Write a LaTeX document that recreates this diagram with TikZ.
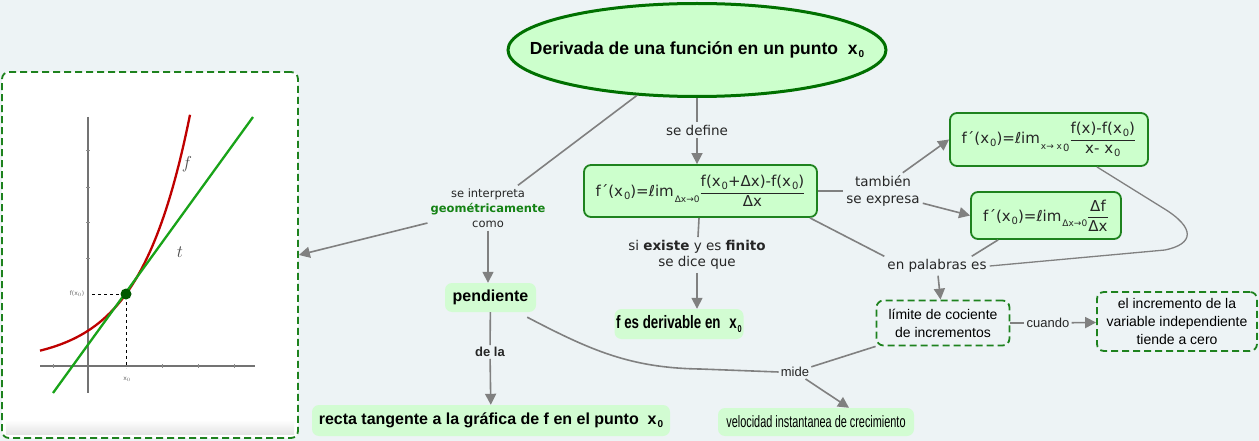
\documentclass[tikz,border=0pt]{standalone}
\usepackage{fontspec}
\usepackage{amsmath}
\setmainfont{DejaVu Sans}
\newfontfamily\arial{Liberation Sans}
\newfontfamily\narrow[FakeStretch=0.74]{Liberation Sans}
\newfontfamily\narrowB[FakeStretch=0.66]{Liberation Sans}
\usetikzlibrary{shapes.geometric,arrows.meta}
\definecolor{bg}{RGB}{237,243,245}
\definecolor{gfill}{RGB}{204,255,204}
\definecolor{pfill}{RGB}{210,252,210}
\definecolor{gborder}{RGB}{30,130,30}
\definecolor{tborder}{RGB}{0,112,0}
\definecolor{conncol}{RGB}{128,128,128}
\definecolor{geo}{RGB}{20,130,20}
\newcommand\zs[1]{\kern1pt\raisebox{-0.35ex}{\fontsize{10}{10}\selectfont #1}}
\newcommand\lims[1]{\kern1pt\raisebox{-0.7ex}{\fontsize{9}{9}\selectfont #1}}
\tikzset{
  fbox/.style={draw=gborder, line width=1.8pt, fill=gfill, rounded corners=7pt, inner sep=0pt},
  pbox/.style={fill=pfill, rounded corners=7pt, inner sep=0pt},
  dbox/.style={draw=gborder, line width=1.8pt, dash pattern=on 7pt off 4pt, rounded corners=7pt, inner sep=0pt},
  lbl/.style={font=\fontsize{13.5}{16.5}\selectfont, align=center, inner sep=3pt, text=black!85},
  small/.style={font=\arial\fontsize{13}{15}\selectfont, inner sep=2pt, text=black!85},
  conn/.style={draw=conncol, line width=1.6pt},
  arr/.style={conn, -{Triangle[length=11pt,width=11pt]}},
  form/.style={font=\fontsize{15}{18}\selectfont, text=black!85}
}
\begin{document}
\begin{tikzpicture}[x=1pt,y=-1pt]
\fill[bg] (0,0) rectangle (1259,441);
\useasboundingbox (0,0) rectangle (1259,441);

% ---------- nodes ----------
\node[ellipse, draw=tborder, line width=3pt, fill=gfill, minimum width=378pt, minimum height=93pt, inner sep=0pt,
      label={[font=\arial\bfseries\fontsize{17.5}{20}\selectfont, text=black]center:Derivada de una función en un punto \;x\zs{\bfseries 0}}] (title) at (697,50) {};

\node[fbox, minimum width=233pt, minimum height=52pt, form] (def) at (700.5,191)
  {f´(x\zs{0})=ℓim\lims{Δx→0}$\dfrac{\text{f(x\zs{0}+Δx)-f(x\zs{0})}}{\text{Δx}}$};

\node[fbox, minimum width=198pt, minimum height=53pt, form] (b3) at (1049,139.5)
  {f´(x\zs{0})=ℓim\lims{x→ x\zs{0}}$\dfrac{\text{f(x)-f(x\zs{0})}}{\text{x- x\zs{0}}}$};

\node[fbox, minimum width=150pt, minimum height=47pt, form] (b4) at (1046,215.5)
  {f´(x\zs{0})=ℓim\lims{Δx→0}$\dfrac{\text{Δf}}{\text{Δx}}$};

\node[dbox, fill=white, minimum width=296pt, minimum height=366pt] (img) at (150,255) {};

\node[pbox, minimum width=91pt, minimum height=29pt, font=\arial\bfseries\fontsize{16}{18}\selectfont] (pend) at (490.5,297.5) {pendiente};

\node[pbox, minimum width=358pt, minimum height=31pt, font=\arial\bfseries\fontsize{16}{18}\selectfont] (recta) at (491,420.5)
  {recta tangente a la gráfica de f en el punto \;x\zs{\bfseries 0}};

\node[pbox, minimum width=129pt, minimum height=30pt, font=\narrow\bfseries\fontsize{18}{20}\selectfont] (fder) at (679,324)
  {f es derivable en \;x\zs{\bfseries 0}};

\node[dbox, minimum width=133pt, minimum height=45pt, align=center, font=\arial\fontsize{14}{18}\selectfont] (lim) at (943,323)
  {límite de cociente\\de incrementos};

\node[dbox, minimum width=160pt, minimum height=59pt, align=center, font=\arial\fontsize{14}{18}\selectfont] (inc) at (1177,321.5)
  {el incremento de la\\variable independiente\\tiende a cero};

\node[pbox, minimum width=196pt, minimum height=28pt, font=\narrowB\fontsize{16.5}{18}\selectfont] (vel) at (816,422)
  {velocidad instantanea de crecimiento};

% ---------- labels ----------
\node[lbl] (lDef) at (697,130) {se define};
\node[lbl, font=\fontsize{11.5}{15}\selectfont] (lInt) at (488,208)
  {se interpreta\\{\color{geo}\bfseries geométricamente}\\como};
\node[lbl] (lTamb) at (883,191) {también\\se expresa};
\node[lbl] (lSi) at (697,255) {si \textbf{existe} y es \textbf{finito}\\se dice que};
\node[lbl] (lPal) at (937,266) {en palabras es};
\node[small, font=\arial\bfseries\fontsize{13}{15}\selectfont] (lDela) at (490,352) {de la};
\node[small] (lCuando) at (1048,323) {cuando};
\node[small] (lMide) at (795,372) {mide};

% ---------- connectors ----------
\draw[conn] (title) -- (lDef);
\draw[arr] (lDef.south) -- (lDef.south |- def.north);
\draw[conn] (lInt) -- (title);
\draw[arr] (lInt) -- (img.east);
\draw[arr] (lInt.south) -- (lInt.south |- pend.north);
\draw[conn] (pend) -- (lDela);
\draw[arr] (lDela) -- (recta);
\draw[conn] ([xshift=-9pt,yshift=-5pt]pend.south east) .. controls (590,350) and (630,368) .. (700,369) -- (lMide.west);
\draw[conn] (lim.south west) -- (lMide);
\draw[arr] (lMide) -- ([xshift=33pt]vel.north);
\draw[conn] (def) -- (lTamb);
\draw[arr] ([xshift=-20pt]lTamb.north east) -- (b3.west);
\draw[arr] ([yshift=6pt]lTamb.south east) -- (b4.west);
\draw[conn] (def) -- (lSi);
\draw[arr] (lSi.south) -- (lSi.south |- fder.north);
\draw[conn] ([xshift=-8pt]def.south east) -- (lPal.north west);
\draw[conn] ([xshift=28pt]b4.south west) -- ([xshift=-18pt]lPal.north east);
\draw[conn, line width=1.3pt] ([xshift=-52pt]b3.south east) -- (1163,208) .. controls (1196,228) and (1194,244) .. (1165,250) -- (lPal.east);
\draw[arr] (lPal) -- (lim);
\draw[conn] (lim) -- (lCuando);
\draw[arr] (lCuando) -- (inc);

% ---------- graph inside image ----------
\shade[top color=white, bottom color=black!10] (6,420) rectangle (294,434);
\draw[black!55, line width=1.1pt] (88,117) -- (88,393);
\draw[black!55, line width=1.1pt] (40,366) -- (255,366);
\foreach \yy in {150,187,222,258} \draw[black!45, line width=0.8pt] (86,\yy) -- (90,\yy);
\foreach \xx in {53,162,198,234} \draw[black!45, line width=0.8pt] (\xx,364) -- (\xx,368);
\draw[red!75!black, line width=2.3pt, domain=-86:64, samples=80, smooth] plot ({126+\x},{294-69*(exp(0.02*\x)-1)});
\draw[green!60!black!90, line width=2.3pt] (53,393) -- (253,117);
\draw[black, dashed, line width=1pt] (92,294) -- (126,294) -- (126,368);
\fill[green!35!black] (126,294) circle (5.5pt);
\node[font=\fontsize{16}{16}\selectfont, text=black!70] at (187,164) {$f$};
\node[font=\fontsize{16}{16}\selectfont, text=black!70] at (180,252) {$t$};
\node[font=\fontsize{6}{6}\selectfont, text=black!60] at (77,294) {f(x$_0$)};
\node[font=\fontsize{6}{6}\selectfont, text=black!60] at (127,379) {x$_0$};
\end{tikzpicture}
\end{document}
